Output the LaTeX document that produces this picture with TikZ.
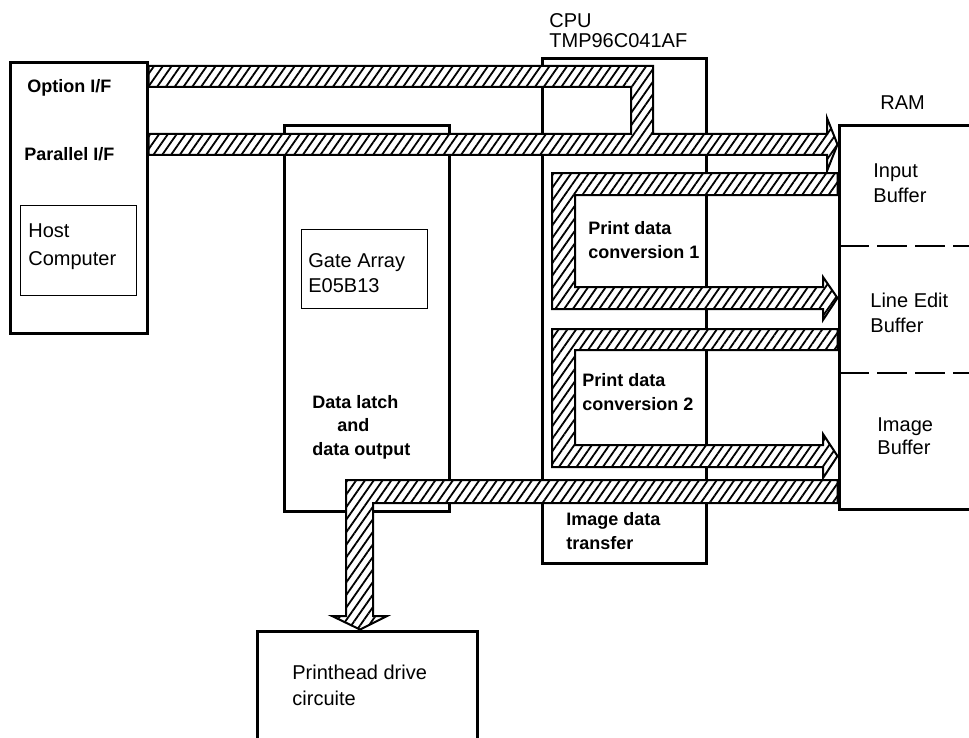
\documentclass[tikz,border=0pt]{standalone}
\usepackage{fontspec}
\setmainfont{Liberation Sans}
\usetikzlibrary{patterns.meta, fit}

\begin{document}
\begin{tikzpicture}[
    x=0.5pt, y=-0.5pt,
    unit/.style={draw, line width=1.5pt, inner sep=0pt},
    chip/.style={draw, line width=0.5pt, inner sep=0pt},
    lbl/.style={font=\fontsize{10}{12.5}\selectfont, align=left,
                anchor=base west, inner sep=0pt},
    blbl/.style={font=\fontsize{9}{12}\selectfont\bfseries, align=left,
                 anchor=base west, inner sep=0pt},
    band/.style={draw, line width=1pt, preaction={fill=white},
                 pattern={Lines[angle=55, distance=3.6pt, line width=0.9pt]}},
    split/.style={line width=0.75pt, dash pattern=on 15pt off 4pt},
  ]
    \useasboundingbox (0,0) rectangle (969,738);

    \node[unit, fit={(10,63) (147,333)}] (host) {};
    \node[chip, fit={(20,205) (136,295)}] (pc) {};
    \node[unit, fit={(284,126) (449,511)}] (gate) {};
    \node[chip, fit={(301,229) (427,308)}] (ga) {};
    \node[unit, fit={(542,59) (706,563)}] (cpu) {};
    \node[unit, fit={(839,126) (1020,509)}] (ram) {};
    \node[unit, fit={(257,631) (477,790)}] (head) {};

    \draw[split] (839,246) -- (1000,246);
    \draw[split] (839,373) -- (1000,373);

    \node[blbl] (optif) at (27,93) {Option I/F};
    \node[blbl] (parif) at (24,161) {Parallel I/F};
    \node[lbl, font=\fontsize{10}{14}\selectfont] (pctxt) at (28,265.5) {Host\\Computer};
    \node[lbl] (gatxt) at (308,292) {Gate Array\\E05B13};
    \node[blbl, font=\fontsize{9}{11.75}\selectfont\bfseries] (latch) at (312,455)
      {Data latch\\\hspace{12.5pt}and\\data output};
    \node[lbl, font=\fontsize{10}{10}\selectfont] (cputxt) at (549,47.5) {CPU\\TMP96C041AF};
    \node[blbl] (conv1) at (588,258) {Print data\\conversion 1};
    \node[blbl] (conv2) at (582,410) {Print data\\conversion 2};
    \node[blbl] (xfer) at (566,549) {Image data\\transfer};
    \node[lbl] (ramtxt) at (880,110) {RAM};
    \node[lbl] (inbuf) at (873,202) {Input\\Buffer};
    \node[lbl] (lebuf) at (870,332) {Line Edit\\Buffer};
    \node[lbl, font=\fontsize{10}{11.5}\selectfont] (imbuf) at (877,454) {Image\\Buffer};
    \node[lbl, font=\fontsize{10}{13}\selectfont] (headtxt) at (292,705) {Printhead drive\\circuite};

    \draw[band] (host.east |- 0,66) -- (653,66) -- (653,134) -- (827,134) -- (827,118)
      -- (ram.west |- 0,144.5) -- (827,171) -- (827,155) -- (host.east |- 0,155)
      -- (host.east |- 0,134) -- (631,134) -- (631,87) -- (host.east |- 0,87) -- cycle;
    \draw[band] (ram.west |- 0,173) -- (552,173) -- (552,309) -- (823,309) -- (823,320)
      -- (ram.west |- 0,298) -- (823,277) -- (823,287) -- (575,287) -- (575,195)
      -- (ram.west |- 0,195) -- cycle;
    \draw[band] (ram.west |- 0,329) -- (552,329) -- (552,467) -- (823,467) -- (823,478)
      -- (ram.west |- 0,456) -- (823,434) -- (823,445) -- (575,445) -- (575,350)
      -- (ram.west |- 0,350) -- cycle;
    \draw[band] (ram.west |- 0,480) -- (346,480) -- (346,616) -- (332,616)
      -- (360,0 |- head.north) -- (387,616) -- (373,616) -- (373,503)
      -- (ram.west |- 0,503) -- cycle;
  \end{tikzpicture}
\end{document}
